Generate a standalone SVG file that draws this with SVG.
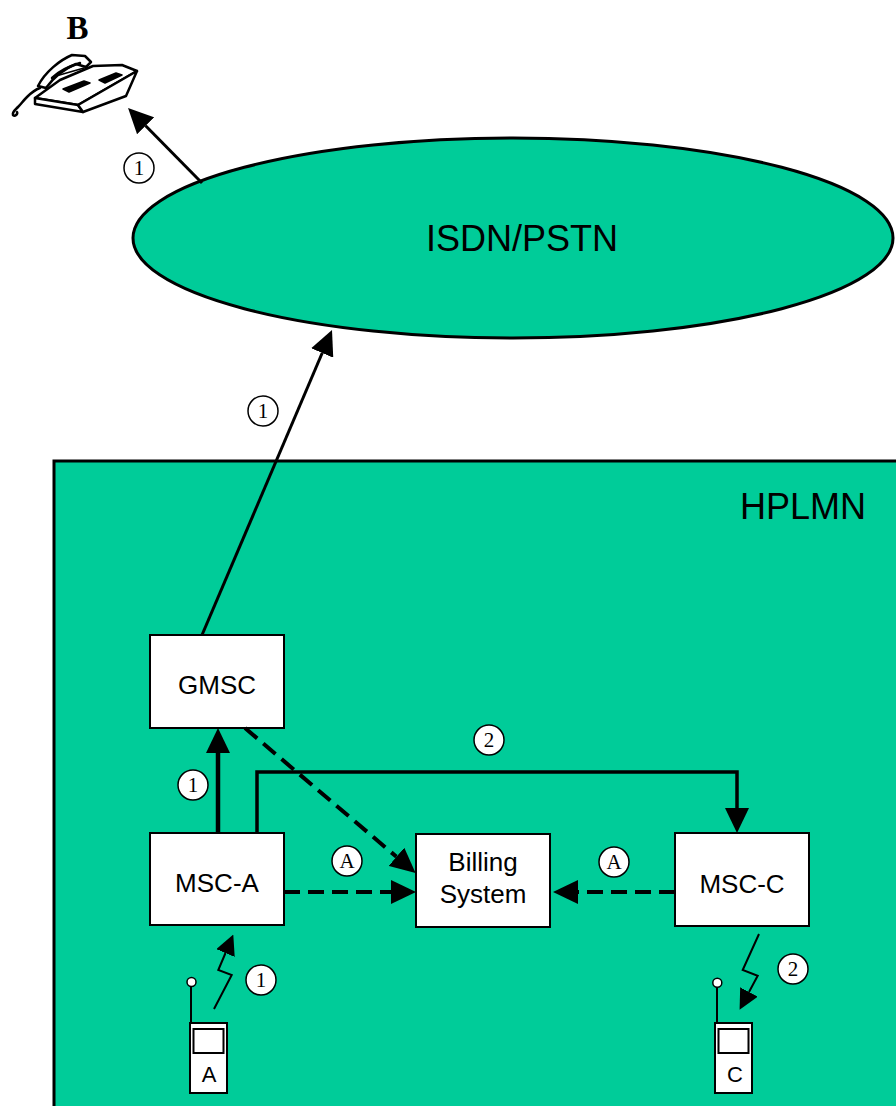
<svg xmlns="http://www.w3.org/2000/svg" width="896" height="1106" viewBox="0 0 896 1106">
<style>
.box{fill:#fff;stroke:#000;stroke-width:2}
.lbl{font-family:"Liberation Sans",Arial,sans-serif;font-size:26px;text-anchor:middle;fill:#000}
.big{font-family:"Liberation Sans",Arial,sans-serif;font-size:36px;fill:#000}
.num circle{fill:#fff;stroke:#000;stroke-width:1.5}
.num text{font-family:"Liberation Serif","Times New Roman",serif;font-size:21px;text-anchor:middle;fill:#000}
.solid{fill:none;stroke:#000;stroke-width:3}
.dash{fill:none;stroke:#000;stroke-width:4;stroke-dasharray:16 8}
.bolt{fill:none;stroke:#000;stroke-width:2}
</style>
<defs>
<marker id="ah" markerUnits="userSpaceOnUse" markerWidth="25" markerHeight="24" viewBox="0 0 25 24" refX="0" refY="12" orient="auto">
<path d="M0,0 L25,12 L0,24 Z" fill="#000" stroke="none"/>
</marker>
<marker id="ahs" markerUnits="userSpaceOnUse" markerWidth="20" markerHeight="20" viewBox="0 0 20 20" refX="0" refY="10" orient="auto">
<path d="M0,0 L20,10 L0,20 Z" fill="#000" stroke="none"/>
</marker>
</defs>
<rect width="896" height="1106" fill="#fff"/>

<g id="isdn">
<ellipse cx="513" cy="238" rx="380" ry="100" fill="#00CC99" stroke="#000" stroke-width="3"/>
<text class="big" x="522" y="251" text-anchor="middle">ISDN/PSTN</text>
</g>

<g id="hplmn">
<rect x="54" y="461" width="900" height="700" fill="#00CC99" stroke="#000" stroke-width="3"/>
<text class="big" x="740" y="519">HPLMN</text>
</g>

<g id="phoneB" fill="#fff" stroke="#000" stroke-width="2.5" stroke-linejoin="round" stroke-linecap="round">
<path d="M35,98 L78,105 L137,71 L122,65 L93,66 L60,80 Z"/>
<path d="M35,98 L78,105 L83,112 L35,104 Z"/>
<path d="M78,105 L137,71 L126,96 L83,112 Z"/>
<path d="M38,86 C45,72 60,60 72,55 L85,56 L91,62 L86,67 L76,64 C66,68 56,74 46,88 Z"/>
<path d="M52,78 C60,70 70,66 80,63" fill="none"/>
<path d="M56,76 L84,68" fill="none" stroke-width="1.5"/>
<path d="M63,89 L84,81 L90,83 L69,92 Z" fill="#000" stroke-width="1.5"/>
<path d="M99,80 L116,73 L122,75 L105,83 Z" fill="#000" stroke-width="1.5"/>
<path d="M40,88 C34,90 30,94 27,97 C23,101 21,104 18,107 C15,110 12,112 13,115 C15,117 18,114 17,112" fill="none"/>
<text x="77.5" y="39" font-family="'Liberation Serif','Times New Roman',serif" font-size="33" font-weight="bold" text-anchor="middle" fill="#000" stroke="none">B</text>
</g>

<g id="gmsc">
<rect class="box" x="150" y="635" width="134" height="93"/>
<text class="lbl" x="217" y="694">GMSC</text>
</g>
<g id="msca">
<rect class="box" x="150" y="833" width="134" height="92"/>
<text class="lbl" x="217" y="892">MSC-A</text>
</g>
<g id="billing">
<rect class="box" x="416" y="834" width="134" height="93"/>
<text class="lbl" x="483" y="871">Billing</text>
<text class="lbl" x="483" y="903">System</text>
</g>
<g id="mscc">
<rect class="box" x="675" y="833" width="134" height="93"/>
<text class="lbl" x="742" y="893">MSC-C</text>
</g>

<g id="mobileA">
<line x1="191" y1="987" x2="191" y2="1023" stroke="#000" stroke-width="2"/>
<circle cx="191.5" cy="982" r="4.5" fill="#fff" stroke="#000" stroke-width="1.5"/>
<rect class="box" x="190" y="1023" width="37" height="70"/>
<rect class="box" x="193.5" y="1029" width="30" height="24"/>
<text x="209" y="1082" font-family="'Liberation Sans',Arial,sans-serif" font-size="22" text-anchor="middle">A</text>
</g>
<g id="mobileC">
<line x1="717" y1="987" x2="717" y2="1023" stroke="#000" stroke-width="2"/>
<circle cx="717.3" cy="982.7" r="4.5" fill="#fff" stroke="#000" stroke-width="1.5"/>
<rect class="box" x="715" y="1023" width="37" height="70"/>
<rect class="box" x="718.5" y="1029" width="30" height="24"/>
<text x="735" y="1082" font-family="'Liberation Sans',Arial,sans-serif" font-size="22" text-anchor="middle">C</text>
</g>

<g id="connectors">
<line class="solid" x1="202" y1="635" x2="322.2" y2="353" marker-end="url(#ah)"/>
<line class="solid" x1="202" y1="183" x2="145.6" y2="125.8" marker-end="url(#ah)"/>
<line class="solid" style="stroke-width:4.5" x1="218" y1="833" x2="218" y2="753" marker-end="url(#ah)"/>
<path class="solid" style="stroke-width:3.5" d="M257,833 V772 H737 V808" marker-end="url(#ah)"/>
<line class="dash" x1="245" y1="728" x2="396.5" y2="856.8" marker-end="url(#ah)"/>
<line class="dash" x1="284" y1="892" x2="391" y2="892" marker-end="url(#ah)"/>
<line class="dash" x1="675" y1="892" x2="578" y2="892" marker-end="url(#ah)"/>
<polyline class="bolt" points="214,1009 231.7,975 218.3,970 225.5,953" marker-end="url(#ahs)"/>
<polyline class="bolt" points="759,934 742.7,970 757.7,975.7 749,992" marker-end="url(#ahs)"/>
</g>

<g id="labels" class="num">
<g><circle cx="139" cy="168" r="15"/><text x="139" y="175">1</text></g>
<g><circle cx="263" cy="411" r="15"/><text x="263" y="418">1</text></g>
<g><circle cx="193" cy="785" r="15"/><text x="193" y="792">1</text></g>
<g><circle cx="489" cy="740" r="15"/><text x="489" y="747">2</text></g>
<g><circle cx="347" cy="861" r="15"/><text x="347" y="868">A</text></g>
<g><circle cx="614" cy="862" r="15"/><text x="614" y="869">A</text></g>
<g><circle cx="261" cy="980" r="15"/><text x="261" y="987">1</text></g>
<g><circle cx="793" cy="969" r="15"/><text x="793" y="976">2</text></g>
</g>
</svg>
